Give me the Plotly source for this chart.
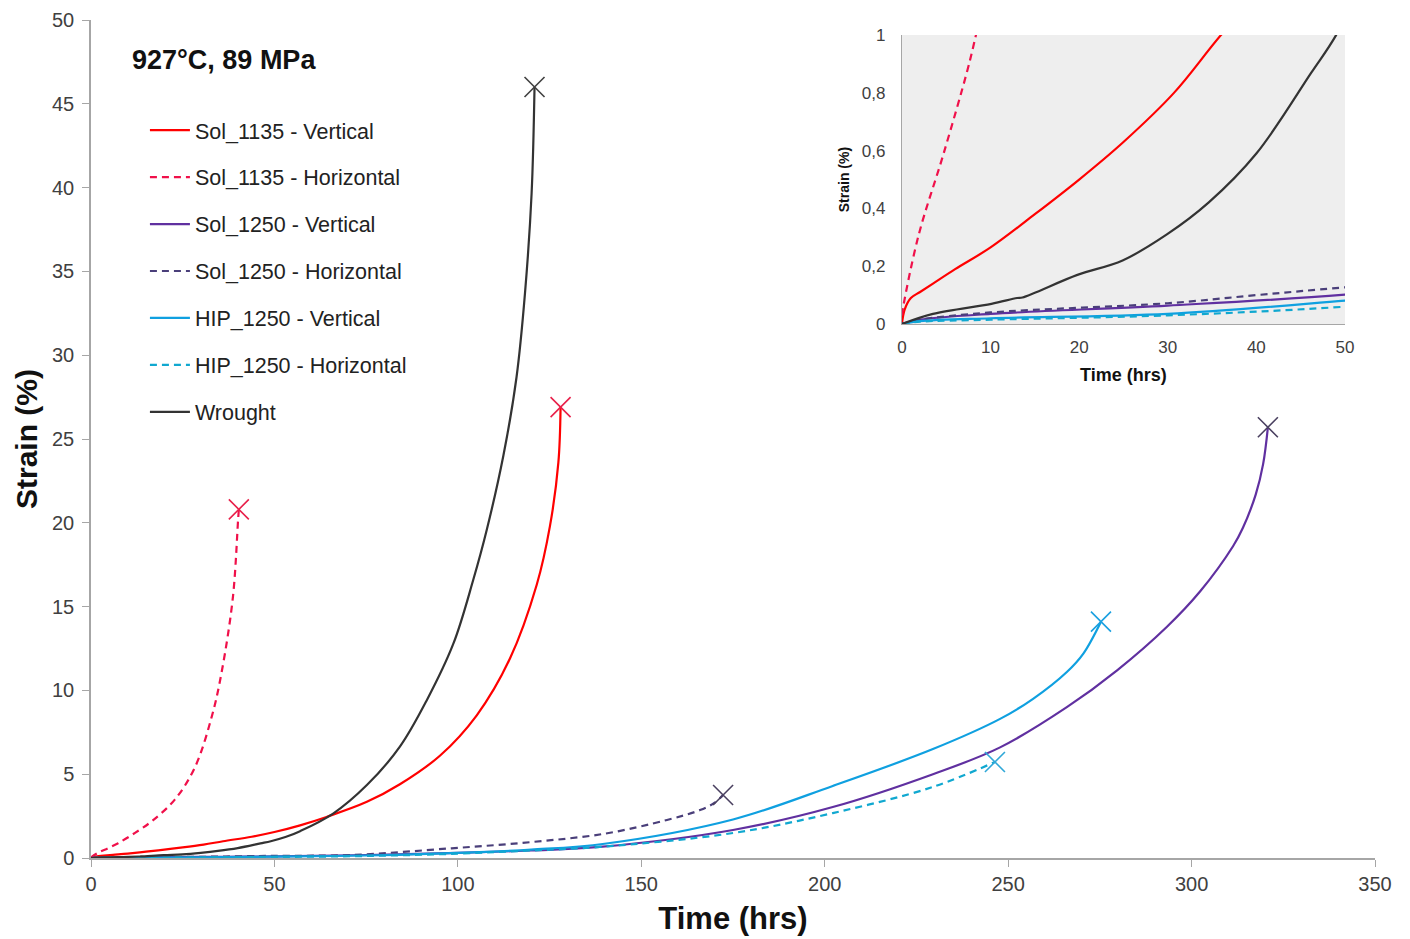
import plotly.graph_objects as go

# ---------------- data ----------------
sol1135_v_t = [0, 0.3, 1, 2, 3.5, 6, 10, 15, 20, 25, 30.7, 36, 43.8, 50, 57, 64.2, 75.2, 84.2, 95.1, 105.1, 114.2, 121.5, 125.1, 127.4, 128.0]
sol1135_v_s = [0, 0.05, 0.09, 0.11, 0.14, 0.19, 0.265, 0.38, 0.5, 0.63, 0.8, 1.0, 1.27, 1.55, 1.95, 2.45, 3.35, 4.4, 6.1, 8.5, 11.9, 16.3, 19.8, 23.6, 26.9]

sol1135_h_t = [0, 0.2, 1.9, 4.7, 7.4, 8.35, 12, 16.6, 22.9, 28.3, 33.0, 35.7, 38.7, 40.1, 40.3]
sol1135_h_s = [0.03, 0.07, 0.31, 0.59, 0.88, 1.0, 1.5, 2.2, 3.5, 5.4, 8.5, 11.2, 15.6, 20.2, 20.8]

sol1250_v_t = [0, 2, 10, 30, 50, 75, 100, 120, 138.7, 175, 202.2, 229.5, 247.8, 266, 279.7, 293.3, 302.3, 311.3, 314, 317.5, 319.5, 320.8]
sol1250_v_s = [0, 0.015, 0.035, 0.064, 0.102, 0.18, 0.3, 0.45, 0.66, 1.67, 3.04, 5.0, 6.6, 9.0, 11.2, 13.8, 15.9, 18.6, 19.7, 21.7, 23.5, 25.7]

sol1250_h_t = [0, 2, 10, 30, 40, 50, 71, 98.3, 120, 140, 157, 166, 170, 172.3]
sol1250_h_s = [0, 0.015, 0.04, 0.072, 0.1, 0.127, 0.18, 0.58, 0.95, 1.45, 2.27, 2.86, 3.3, 3.76]

hip1250_v_t = [0, 2, 10, 30, 50, 75, 100, 120, 140, 175, 202.2, 229.5, 247.8, 256.8, 266, 270.5, 275.3]
hip1250_v_s = [0, 0.01, 0.02, 0.035, 0.081, 0.15, 0.3, 0.5, 0.85, 2.3, 4.3, 6.5, 8.3, 9.5, 11.1, 12.2, 14.1]

hip1250_h_t = [0, 2, 10, 30, 50, 75, 100, 120, 138.7, 175, 202.2, 229.5, 246.4]
hip1250_h_s = [0, 0.008, 0.015, 0.03, 0.06, 0.12, 0.26, 0.45, 0.66, 1.49, 2.68, 4.24, 5.73]

wrought_t = [0, 3.5, 10.1, 13, 13.6, 19.8, 24.9, 29.9, 34.6, 40, 46.2, 49, 53, 57, 66, 75.2, 84.2, 91.5, 98.8, 104.2, 107.9, 112.4, 116, 118.3, 120.1, 120.9]
wrought_s = [0, 0.035, 0.07, 0.09, 0.092, 0.17, 0.22, 0.31, 0.42, 0.59, 0.87, 1.0, 1.25, 1.6, 2.65, 4.35, 6.64, 9.4, 12.8, 16.6, 19.6, 24.0, 28.7, 33.7, 39.65, 46.0]

series = [
    ("Sol_1135 - Vertical", sol1135_v_t, sol1135_v_s, "#ff0000", "solid", "#e8204a"),
    ("Sol_1135 - Horizontal", sol1135_h_t, sol1135_h_s, "#f0104a", "7px,5px", "#e8204a"),
    ("Sol_1250 - Vertical", sol1250_v_t, sol1250_v_s, "#6030a0", "solid", "#4a4060"),
    ("Sol_1250 - Horizontal", sol1250_h_t, sol1250_h_s, "#4a3f7a", "7px,5px", "#4a4060"),
    ("HIP_1250 - Vertical", hip1250_v_t, hip1250_v_s, "#0fa0e0", "solid", "#1aa0e0"),
    ("HIP_1250 - Horizontal", hip1250_h_t, hip1250_h_s, "#10a8d0", "7px,5px", "#30a8d8"),
    ("Wrought", wrought_t, wrought_s, "#333333", "solid", "#404040"),
]

FONT = "Arial, Liberation Sans, sans-serif"
fig = go.Figure()

for i, (name, t, s, col, dash, mcol) in enumerate(series):
    fig.add_trace(go.Scatter(
        x=t, y=s, mode="lines", name=name, legendgroup=f"g{i}",
        line=dict(color=col, width=2.2, dash=dash, shape="spline", smoothing=1.0),
        xaxis="x", yaxis="y"))
    fig.add_trace(go.Scatter(
        x=[t[-1]], y=[s[-1]], mode="markers", showlegend=False, legendgroup=f"g{i}",
        marker=dict(symbol="x-thin-open", size=20, color=mcol, line=dict(color=mcol, width=1.6)),
        xaxis="x", yaxis="y", hoverinfo="skip"))
    fig.add_trace(go.Scatter(
        x=t, y=s, mode="lines", showlegend=False, legendgroup=f"g{i}",
        line=dict(color=col, width=2.2, dash=dash, shape="spline", smoothing=1.0),
        xaxis="x2", yaxis="y2"))

axis_common = dict(showline=True, linecolor="#a6a6a6", linewidth=1.5, showgrid=False,
                   zeroline=False, ticks="outside", ticklen=7, tickcolor="#a6a6a6",
                   automargin=False,
                   tickfont=dict(family=FONT, size=20, color="#404040"))

fig.update_layout(
    width=1410, height=939,
    margin=dict(l=83, r=43, t=12, b=89),
    paper_bgcolor="white", plot_bgcolor="rgba(0,0,0,0)",
    separators=",.",
    font=dict(family=FONT, color="#222222"),
    xaxis=dict(domain=[0, 1], range=[0, 350], dtick=50, anchor="y",
               title=dict(text="<b>Time (hrs)</b>", font=dict(family=FONT, size=31, color="#111111"), standoff=14),
               **axis_common),
    yaxis=dict(domain=[0, 1], range=[0, 50], dtick=5, anchor="x", ticklabelstandoff=4,
               title=dict(text="<b>Strain (%)</b>", font=dict(family=FONT, size=30, color="#111111"), standoff=6),
               **axis_common),
    xaxis2=dict(domain=[0.6316, 0.9766], range=[0, 50], dtick=10, anchor="y2", automargin=False,
                showline=True, linecolor="#a6a6a6", linewidth=1.2, showgrid=False, zeroline=False,
                ticks="outside", ticklen=7, tickcolor="rgba(0,0,0,0)",
                tickfont=dict(family=FONT, size=17, color="#404040"),
                title=dict(text="<b>Time (hrs)</b>", font=dict(family=FONT, size=18, color="#111111"), standoff=12),
                ),
    yaxis2=dict(domain=[0.6372, 0.982], range=[0, 1], dtick=0.2, anchor="x2", automargin=False,
                showline=True, linecolor="#a6a6a6", linewidth=1.2, showgrid=False, zeroline=False,
                ticks="outside", ticklen=12, tickcolor="rgba(0,0,0,0)",
                tickfont=dict(family=FONT, size=17, color="#404040"),
                title=dict(text="<b>Strain (%)</b>", font=dict(family=FONT, size=14, color="#111111"), standoff=8)),
    legend=dict(x=0.042, y=0.893, xanchor="left", yanchor="top", bgcolor="rgba(0,0,0,0)",
                font=dict(family=FONT, size=21.5, color="#222222"),
                traceorder="grouped", tracegroupgap=16, itemwidth=40),
    showlegend=True,
    shapes=[dict(type="rect", xref="x2 domain", yref="y2 domain", x0=0, x1=1, y0=0, y1=1,
                 fillcolor="#eeeeee", line=dict(width=0), layer="below")],
    annotations=[dict(text="<b>927°C, 89 MPa</b>", xref="paper", yref="paper", x=0.0304, y=0.952,
                      xanchor="left", yanchor="middle", showarrow=False,
                      font=dict(family=FONT, size=27, color="#111111"))],
)

fig.write_html("out.html")
